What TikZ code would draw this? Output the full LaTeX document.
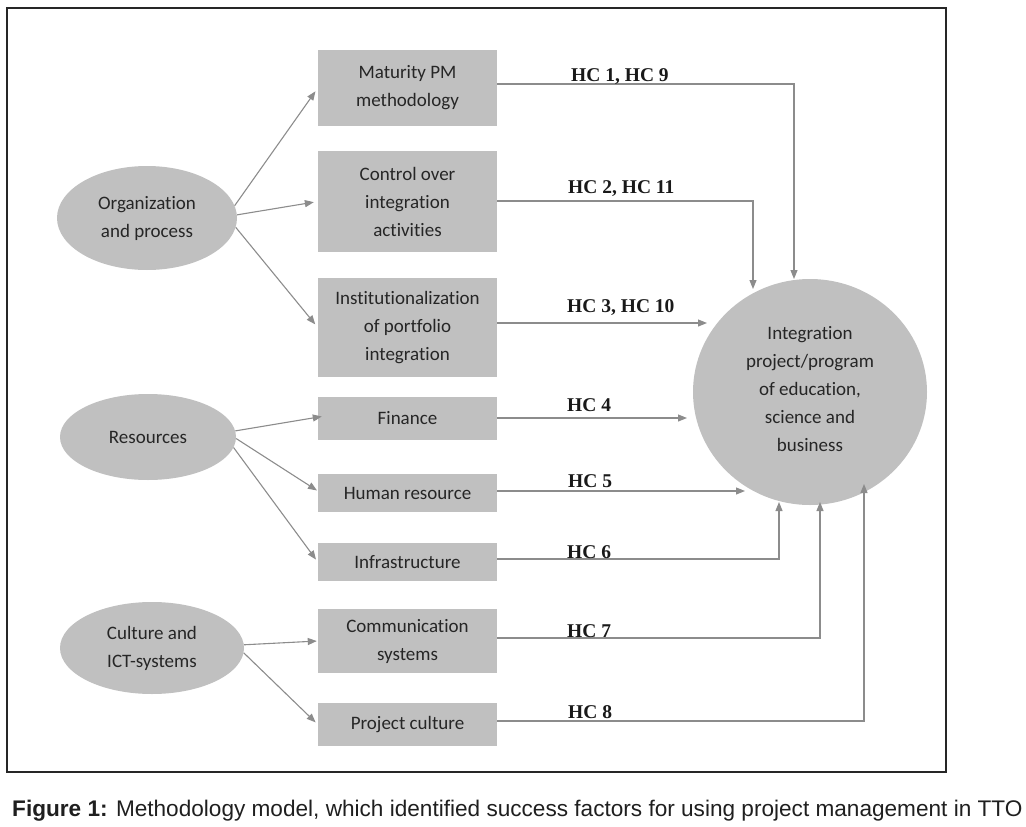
\documentclass[tikz,border=0pt]{standalone}
\usepackage{fontspec}
\setmainfont{Carlito}[Ligatures=NoCommon]
\newfontfamily\hcfont{Liberation Serif}
\newfontfamily\capfont{Liberation Sans}
\usetikzlibrary{arrows.meta,shapes.geometric}
\definecolor{boxgray}{RGB}{192,192,192}
\definecolor{linegray}{RGB}{140,140,140}
\definecolor{txt}{RGB}{38,38,38}
\tikzset{
  factor/.style={fill=boxgray, inner sep=0pt, minimum width=179pt, align=center, text=txt, font=\fontsize{19}{28}\selectfont},
  group/.style={ellipse, fill=boxgray, inner sep=0pt, align=center, text=txt, font=\fontsize{19}{28}\selectfont},
  link/.style={draw=linegray, line width=1.1pt, -{Triangle[length=9pt,width=7pt]}},
  hc/.style={anchor=base west, inner sep=0pt, text=black!90, font=\hcfont\bfseries\fontsize{19.5}{22}\selectfont},
}
\begin{document}
\begin{tikzpicture}[x=1pt,y=-1pt]
\useasboundingbox (0,0) rectangle (1026,827);
\draw[line width=1.3pt, black!85] (7,8) rectangle (946,772);

% factor boxes
\node[factor, minimum height=76pt]  (b1) at (407.5,88)    {Maturity PM\\methodology};
\node[factor, minimum height=101pt] (b2) at (407.5,201.5) {Control over\\integration\\activities};
\node[factor, minimum height=99pt]  (b3) at (407.5,327.5) {Institutionalization\\of portfolio\\integration};
\node[factor, minimum height=43pt]  (b4) at (407.5,418.5) {Finance};
\node[factor, minimum height=38pt]  (b5) at (407.5,493)   {Human resource};
\node[factor, minimum height=38pt]  (b6) at (407.5,562)   {Infrastructure};
\node[factor, minimum height=64pt]  (b7) at (407.5,641)   {Communication\\systems};
\node[factor, minimum height=43pt]  (b8) at (407.5,724.5) {Project culture};

% groups
\node[group, minimum width=180pt, minimum height=104pt] (O)  at (147,218) {Organization\\and process};
\node[group, minimum width=176pt, minimum height=86pt]  (R)  at (148,437) {Resources};
\node[group, minimum width=184pt, minimum height=92pt]   (Cu) at (152,648) {Culture and\\ICT-systems};

% target
\node[group, minimum width=234pt, minimum height=226pt, text depth=6pt] (C) at (810,392) {Integration\\project/program\\of education,\\science and\\business};

% left connectors
\draw[link, shorten >=4pt] (O.8)  -- (b1.west);
\draw[link, shorten >=4pt] (O.2)  -- (b2.west);
\draw[link, shorten >=4pt] (O.-6) -- (b3.west);
\draw[link] (R.4)  -- ([xshift=4pt,yshift=2pt]b4.west);
\draw[link, shorten >=1pt] (R.-1) -- ([yshift=2pt]b5.west);
\draw[link, shorten >=3pt] (R.-7) -- (b6.west);
\draw[link, shorten >=1pt] (Cu.2)  -- (b7.west);
\draw[link, shorten >=3pt] (Cu.-3) -- (b8.west);

% arrow end points on target
\coordinate (e1) at (794,279);
\coordinate (e2) at (753,289);
\coordinate (e3) at (707,323);
\coordinate (e4) at (687,418);
\coordinate (e5) at (745,491);
\coordinate (e6) at (779,502);
\coordinate (e7) at (820,502);
\coordinate (e8) at (864,484);

% right connectors
\draw[link] ([yshift=4pt]b1.east) -| (e1);
\draw[link] ([yshift=0.5pt]b2.east) -| (e2);
\draw[link] ([yshift=4.5pt]b3.east) -- (e3);
\draw[link] ([yshift=0.5pt]b4.east) -- (e4);
\draw[link] ([yshift=2pt]b5.east) -- (e5);
\draw[link] ([yshift=3pt]b6.east) -| (e6);
\draw[link] ([yshift=3pt]b7.east) -| (e7);
\draw[link] ([yshift=3.5pt]b8.east) -| (e8);

% labels
\node[hc] (h1) at (571,81)  {HC 1, HC 9};
\node[hc] (h2) at (568,193) {HC 2, HC 11};
\node[hc] (h3) at (567,312) {HC 3, HC 10};
\node[hc] (h4) at (567,411) {HC 4};
\node[hc] (h5) at (568,487) {HC 5};
\node[hc] (h6) at (567,558) {HC 6};
\node[hc] (h7) at (567,637) {HC 7};
\node[hc] (h8) at (568,718) {HC 8};

% caption
\node[anchor=base west, inner sep=0pt, text=black!88, font=\capfont\fontsize{22.6}{26}\selectfont] (cap) at (12,816)
  {\textbf{Figure 1:} Methodology model, which identified success factors for using project management in TTO};
\end{tikzpicture}
\end{document}
